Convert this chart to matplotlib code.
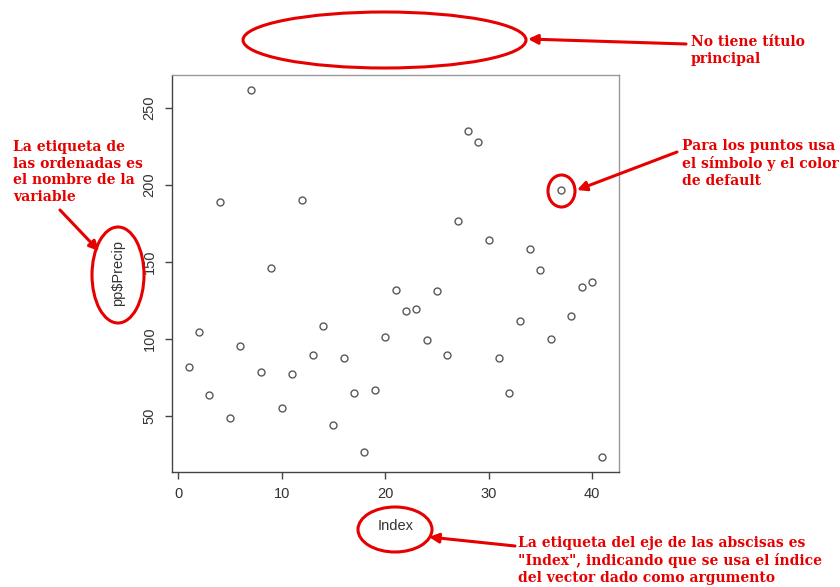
import matplotlib
matplotlib.use("Agg")
import matplotlib.pyplot as plt
from matplotlib.patches import Ellipse

# pp$Precip values, index 1..41
precip = [81.5, 104.4, 63.8, 189.1, 48.7, 95.6, 261.7, 78.7, 145.7, 55.4,
          77.2, 190.2, 89.3, 108.7, 44.4, 87.6, 65.1, 26.7, 67.0, 101.4,
          131.9, 118.4, 119.7, 99.3, 130.8, 89.7, 176.8, 234.7, 227.8, 164.5,
          87.4, 65.1, 111.8, 158.4, 144.6, 99.9, 196.7, 114.8, 133.6, 136.8,
          23.2]
index = list(range(1, len(precip) + 1))
xticks = [0, 10, 20, 30, 40]
yticks = [50, 100, 150, 200, 250]

W, H = 840, 587
fig = plt.figure(figsize=(W / 100, H / 100), dpi=100)

# main R-style plot
ax = fig.add_axes([172 / W, 1 - 472 / H, 447 / W, 397 / H])
ax.plot(index, precip, linestyle="none", marker="o", markersize=5,
        markerfacecolor="none", markeredgecolor="#595959", markeredgewidth=1)

# R pads the data range by 4%
xr = max(index) - min(index)
yr = max(precip) - min(precip)
ax.set_xlim(min(index) - 0.04 * xr, max(index) + 0.04 * xr)
ax.set_ylim(min(precip) - 0.04 * yr, max(precip) + 0.04 * yr)
ax.set_xticks(xticks)
ax.set_yticks(yticks)
ax.tick_params(length=5, width=1, color="#444444", labelcolor="#333333",
               labelsize=10.5, pad=6)
for lab in ax.get_yticklabels():
    lab.set_rotation(90)
    lab.set_va("center")
for s in ["top", "right"]:
    ax.spines[s].set_color("#999999")
for s in ["left", "bottom"]:
    ax.spines[s].set_color("#444444")
for s in ax.spines.values():
    s.set_linewidth(1)

ax.set_xlabel("Index", fontsize=10.5, color="#333333", fontfamily="Liberation Sans", labelpad=13)
ax.set_ylabel("pp\\$Precip", fontsize=10.5, color="#333333", fontfamily="Liberation Sans", labelpad=13)
for lab in ax.get_xticklabels() + ax.get_yticklabels():
    lab.set_fontfamily("Liberation Sans")

# overlay in pixel coordinates for the red notes
ov = fig.add_axes([0, 0, 1, 1])
ov.set_xlim(0, W)
ov.set_ylim(H, 0)
ov.axis("off")

red = "#e60000"
ellipses = [(384.5, 40, 283, 56), (561.5, 191, 27, 32),
            (118, 275, 52, 96), (395, 529.5, 74, 45)]
for cx, cy, w, h in ellipses:
    ov.add_patch(Ellipse((cx, cy), w, h, fill=False, edgecolor=red, lw=2.2))

arrows = [((686, 44), (528, 39)), ((677, 152), (577, 190)),
          ((60, 210), (99, 251)), ((515, 546), (429, 537))]
for tail, tip in arrows:
    ov.annotate("", xy=tip, xytext=tail,
                arrowprops=dict(arrowstyle="-|>", color=red, lw=2.2,
                                mutation_scale=14, shrinkA=0, shrinkB=0))

notes = [
    (691, 35, "No tiene título\nprincipal"),
    (682, 139, "Para los puntos usa\nel símbolo y el color\nde default"),
    (13, 140, "La etiqueta de\nlas ordenadas es\nel nombre de la\nvariable"),
    (518, 536, "La etiqueta del eje de las abscisas es\n\"Index\", indicando que se usa el índice\ndel vector dado como argumento"),
]
for x, y, t in notes:
    ov.text(x, y, t, color=red, fontsize=10, fontfamily="DejaVu Serif",
            fontweight="bold", ha="left", va="top", linespacing=1.25)

fig.savefig("out.png", dpi=100)
